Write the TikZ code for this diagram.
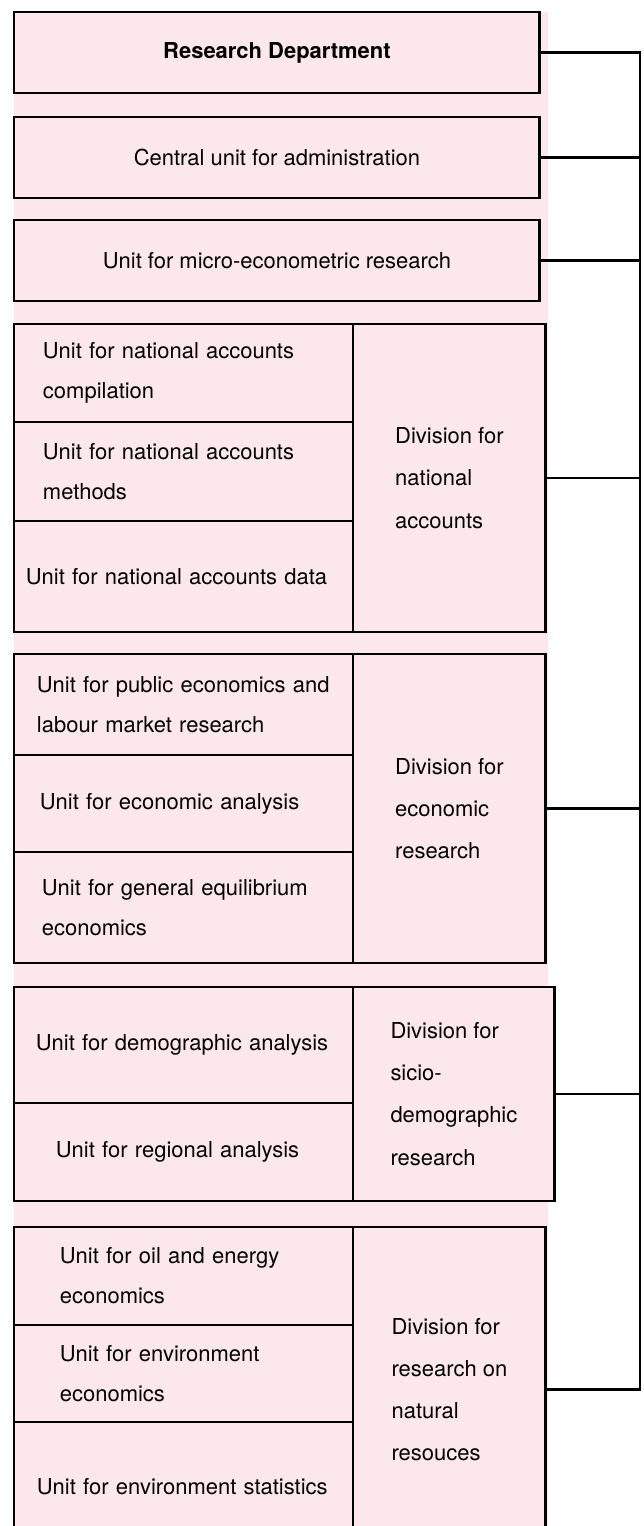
\documentclass[tikz,border=0pt]{standalone}
\usepackage{fontspec}
\setmainfont{TeX Gyre Heros}
\usetikzlibrary{positioning}
\definecolor{pinkbg}{RGB}{252, 232, 235}

\tikzset{
  box/.style={draw, line width=1.6pt, fill=pinkbg, outer sep=0pt, inner xsep=0pt,
    font={\fontsize{12.5pt}{22.8pt}\selectfont}},
  topbox/.style={box, minimum width=10.52cm, minimum height=1.62cm, anchor=north west},
  unit/.style={box, minimum width=6.78cm, text width=#1, align=left},
  unit/.default=6.3cm,
  division/.style={box, minimum width=3.86cm, align=left, anchor=north west,
    font={\fontsize{12.5pt}{24pt}\selectfont}},
  link/.style={line width=1.3pt}
}

\begin{document}
\begin{tikzpicture}[x=0.02cm, y=-0.02cm]
\useasboundingbox (0,0) rectangle (644,1526);
\clip (0,0) rectangle (644,1526);
\fill[pinkbg] (14,12) rectangle (548,1526);

% department level
\node[topbox] (head) at (14,12) {\bfseries Research Department};
\node[topbox] (admin) at (14,117) {Central unit for administration};
\node[topbox] (micro) at (14,220) {Unit for micro-econometric research};

% national accounts
\node[unit=5.62cm, minimum height=1.96cm, anchor=north west] (na1) at (14,324) {Unit for national accounts\\compilation};
\node[unit=5.62cm, minimum height=1.98cm, below=0pt of na1] (na2) {Unit for national accounts\\methods};
\node[unit, minimum height=2.22cm, below=0pt of na2] (na3) {Unit for national accounts data};
\node[division, minimum height=6.16cm] (divNA) at (na1.north east) {Division for\\national\\accounts};

% economic research
\node[unit=5.86cm, minimum height=2.02cm, anchor=north west] (er1) at (14,654) {Unit for public economics and\\labour market research};
\node[unit=5.74cm, minimum height=1.94cm, below=0pt of er1] (er2) {Unit for economic analysis};
\node[unit=5.66cm, minimum height=2.22cm, below=0pt of er2] (er3) {Unit for general equilibrium\\economics};
\node[division, minimum height=6.18cm] (divER) at (er1.north east) {Division for\\economic\\research};

% socio-demographic research
\node[unit=5.9cm, minimum height=2.32cm, anchor=north west] (sd1) at (14,987) {Unit for demographic analysis};
\node[unit=5.1cm, minimum height=1.96cm, below=0pt of sd1] (sd2) {Unit for regional analysis};
\node[division, minimum width=4.04cm, minimum height=4.28cm] (divSD) at (sd1.north east) {Division for\\sicio-\\demographic\\research};

% natural resources
\node[unit=4.94cm, minimum height=1.96cm, anchor=north west] (nr1) at (14,1227) {Unit for oil and energy\\economics};
\node[unit=4.94cm, minimum height=1.94cm, below=0pt of nr1] (nr2) {Unit for environment\\economics};
\node[unit=5.86cm, minimum height=2.6cm, below=0pt of nr2] (nr3) {Unit for environment statistics};
\node[division, minimum height=6.5cm] (divNR) at (nr1.north east) {Division for\\research on\\natural\\resouces};

% connectors
\coordinate (bus) at (640,0);
\draw[link] (head.east) -| (bus |- divNR.east) -- (divNR.east);
\foreach \n in {admin,micro,divNA,divER,divSD}
  \draw[link] (\n.east) -- (bus |- \n.east);
\end{tikzpicture}
\end{document}
